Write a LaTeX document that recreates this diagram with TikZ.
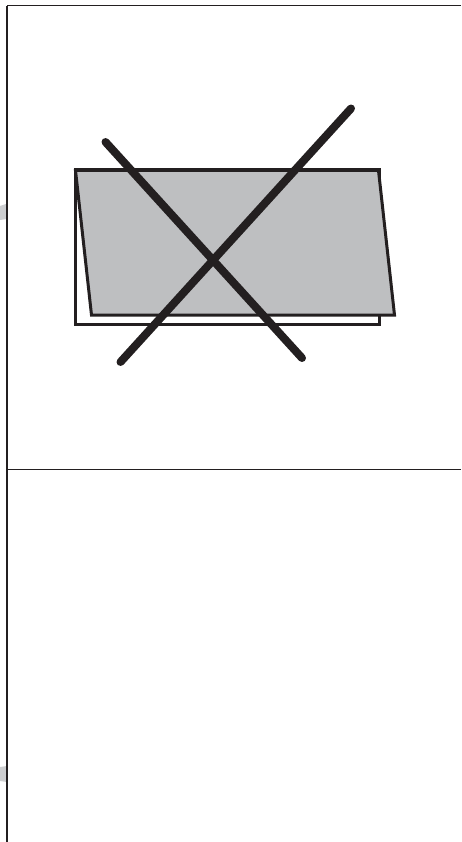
\documentclass[tikz,border=0pt]{standalone}
\usepackage{xcolor}
\usepackage{tikz}
\definecolor{inkblack}{RGB}{35,31,32}
\definecolor{sheetgray}{RGB}{190,191,193}
\definecolor{edgegray}{RGB}{205,206,208}
\tikzset{
  frameline/.style={inkblack,line width=1pt},
  sheetline/.style={inkblack,line width=3pt,line join=miter},
  crossline/.style={inkblack,line width=8pt,line cap=round}
}
\begin{document}
\begin{tikzpicture}[x=1pt,y=-1pt]
  \useasboundingbox (0,0) rectangle (461,842);
  % bits of gray left of the frame
  \fill[edgegray] (0,206) -- (6,204) -- (6,192) -- (7,192) -- (7,219) -- (0,220) -- cycle;
  \fill[edgegray] (0,767) -- (7,766) -- (7,782) -- (0,781) -- cycle;
  % frame
  \coordinate (topleft) at (7,6);
  \coordinate (topright) at (461,6);
  \coordinate (bottomleft) at (7,842);
  \coordinate (midleft) at (7,469);
  \coordinate (midright) at (461,469);
  \draw[frameline] (topright) -- (topleft);
  \draw[frameline,line width=1.3pt] (topleft) -- (bottomleft);
  \draw[frameline] (midleft) -- (midright);
  % card
  \draw[sheetline,fill=white] (75,170) rectangle (379,324);
  \draw[sheetline,fill=sheetgray] (75.5,170.5) -- (378.5,170.5) -- (394.5,315) -- (91.5,315) -- cycle;
  % cross
  \draw[crossline] (105.5,142) -- (302,358);
  \draw[crossline] (351,108.5) -- (120.5,362);
\end{tikzpicture}
\end{document}
